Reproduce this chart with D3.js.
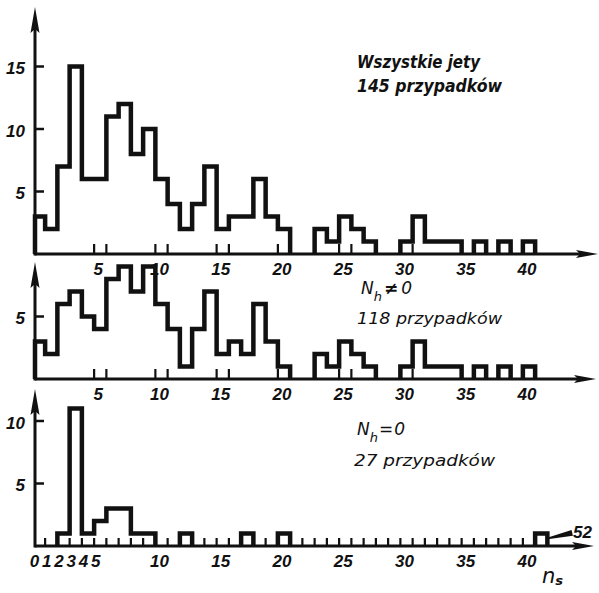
<!DOCTYPE html>
<html>
<head>
<meta charset="utf-8">
<script src="https://cdn.jsdelivr.net/npm/d3@7"></script>
<style>
html, body { margin: 0; padding: 0; background: #fff; }
svg { display: block; }
.num { font-family: "Liberation Sans", Arial, sans-serif; font-weight: bold; font-style: italic; font-size: 17px; fill: #111; }
.note { font-family: "DejaVu Sans", sans-serif; font-style: italic; fill: #111; }
</style>
</head>
<body>
<svg id="chart" width="599" height="593"></svg>
<script>
// n_s bins 0..40
const binsNs = d3.range(0, 41);

// all jets, 145 cases
const allJets = [3,2,7,15,6,6,11,12,8,10,6,4,2,4,7,2,3,3,6,3,2, 0,0,2,1,3,2,1,0,0,1,3,1,1,1,0,1,0,1,0,1];
// N_h != 0, 118 cases
const withHeavy = [3,2,6,7,5,4,8,9,7,9,6,4,1,4,7,2,3,2,6,3,1, 0,0,2,1,3,2,1,0,0,1,3,1,1,1,0,1,0,1,0,1];
// N_h = 0, 27 cases
const noHeavy = [0,0,1,11,1,2,3,3,1,1,0,0,1,0,0,0,0,1,0,0,1, 0,0,0,0,0,0,0,0,0,0,0,0,0,0,0,0,0,0,0,0];
// one event at n_s = 52, drawn in the slot after 40
const overflowNs = 52;
const overflowCount = 1;
const overflowSlot = 41;

const xLabels = [5,10,15,20,25,30,35,40];
const smallLabels = [0,1,2,3,4,5];
const topYTicks = [5,10,15];
const midYTicks = [5];
const botYTicks = [5,10];

const axisX = 35;
const unit = 12.5;
const ink = '#111';

const svg = d3.select('#chart');

const x = d3.scaleLinear().domain([0, 40]).range([39, 529]);
const edge = n => Math.max(axisX, x(n - 0.5));

// tick marks either side of every 5th bin, or on every bin edge
const pairTicks = xLabels.flatMap(v => [v - 0.5, v + 0.5]);
const allTicks = d3.range(0, 41).map(n => n + 0.5);

const panels = [
	{ values: allJets, base: 254, tip: 7, xEnd: 598, yTicks: topYTicks, ticks: pairTicks, tickLen: 10, labelY: 275 },
	{ values: withHeavy, base: 379, tip: 262, xEnd: 596, yTicks: midYTicks, ticks: pairTicks, tickLen: 10, labelY: 400 },
	{ values: noHeavy, base: 546, tip: 389, xEnd: 594, yTicks: botYTicks, ticks: allTicks, tickLen: 8, labelY: 567 }
];

const stepLine = d3.line().curve(d3.curveStepAfter);

// split a histogram into runs of non-empty bins
const runsOf = (vals, y) => {
	let out = [];
	let cur = null;
	vals.forEach((v, n) => {
		if (v > 0) {
			if (!cur) { cur = [[edge(n), y(0)]]; }
			cur.push([edge(n), y(v)]);
		} else if (cur) {
			cur.push([edge(n), y(0)]);
			out.push(cur);
			cur = null;
		}
	});
	if (cur) { cur.push([edge(vals.length), y(0)]); out.push(cur); }
	return out;
};

panels.forEach((p, i) => {
	const y = d3.scaleLinear().domain([0, 1]).range([p.base, p.base - unit]);
	const g = svg.append('g');

	// axes
	g.append('line')
	.attr('x1', axisX).attr('x2', p.xEnd - 14)
	.attr('y1', p.base).attr('y2', p.base)
	.attr('stroke', ink).attr('stroke-width', 3);
	g.append('path')
	.attr('d', `M${p.xEnd},${p.base} L${p.xEnd - 22},${p.base - 4} L${p.xEnd - 18},${p.base} L${p.xEnd - 22},${p.base + 4} Z`)
	.attr('fill', ink);

	g.append('line')
	.attr('x1', axisX).attr('x2', axisX)
	.attr('y1', p.base + 1.5).attr('y2', p.tip + 18)
	.attr('stroke', ink).attr('stroke-width', 3);
	g.append('path')
	.attr('d', `M${axisX},${p.tip} L${axisX - 4.5},${p.tip + 26} L${axisX},${p.tip + 22} L${axisX + 4.5},${p.tip + 26} Z`)
	.attr('fill', ink);

	// histogram
	g.selectAll('path.hist')
	.data(runsOf(p.values, y))
	.enter()
	.append('path')
	.attr('class', 'hist')
	.attr('d', stepLine)
	.attr('fill', 'none')
	.attr('stroke', ink)
	.attr('stroke-width', 4.5)
	.attr('stroke-linejoin', 'miter');

	// x tick marks (pointing up)
	g.selectAll('line.xtick')
	.data(p.ticks)
	.enter()
	.append('line')
	.attr('class', 'xtick')
	.attr('x1', d => x(d)).attr('x2', d => x(d))
	.attr('y1', p.base).attr('y2', p.base - p.tickLen)
	.attr('stroke', ink)
	.attr('stroke-width', 2.2);

	// y tick marks (pointing right)
	g.selectAll('line.ytick')
	.data(p.yTicks)
	.enter()
	.append('line')
	.attr('class', 'ytick')
	.attr('x1', axisX).attr('x2', axisX + 9)
	.attr('y1', d => y(d)).attr('y2', d => y(d))
	.attr('stroke', ink)
	.attr('stroke-width', 2.5);

	// y labels
	g.selectAll('text.ylab')
	.data(p.yTicks)
	.enter()
	.append('text')
	.attr('class', 'num ylab')
	.attr('text-anchor', 'end')
	.attr('x', 25)
	.attr('y', d => y(d) + 7.5)
	.text(d => d);

	// x labels
	const labs = i === 2 ? xLabels.filter(v => v > 5) : xLabels;
	g.selectAll('text.xlab')
	.data(labs)
	.enter()
	.append('text')
	.attr('class', 'num xlab')
	.attr('text-anchor', 'middle')
	.attr('x', d => x(d) - 2)
	.attr('y', p.labelY)
	.text(d => d);

	if (i === 2) {
		g.selectAll('text.small')
		.data(smallLabels)
		.enter()
		.append('text')
		.attr('class', 'num small')
		.attr('text-anchor', 'middle')
		.attr('x', d => x(d) - 4.5)
		.attr('y', p.labelY)
		.text(d => d);

		// the n_s = 52 event
		g.append('path')
		.attr('d', stepLine([[edge(overflowSlot), y(0)], [edge(overflowSlot), y(overflowCount)], [edge(overflowSlot + 1), y(0)]]))
		.attr('fill', 'none')
		.attr('stroke', ink)
		.attr('stroke-width', 4.5);

		g.append('path')
		.attr('d', `M${edge(overflowSlot + 1)},${y(overflowCount) + 5} L571,531 L572,535 Z`)
		.attr('fill', ink)
		.attr('stroke', ink)
		.attr('stroke-width', 1.5);

		g.append('text')
		.attr('class', 'num')
		.attr('font-size', 15)
		.attr('x', 573)
		.attr('y', 538)
		.text(overflowNs);

		const ns = g.append('text').attr('class', 'note').attr('x', 542).attr('y', 583);
		ns.append('tspan').attr('font-size', 21).text('n');
		ns.append('tspan').attr('font-size', 13).attr('font-weight', 'bold').attr('dy', 2).text('s');
	}
});

// panel captions
svg.append('text').attr('class', 'note').attr('font-weight', 'bold').attr('font-size', 17)
.attr('x', 357).attr('y', 68).attr('textLength', 123).attr('lengthAdjust', 'spacingAndGlyphs')
.text('Wszystkie jety');
svg.append('text').attr('class', 'note').attr('font-weight', 'bold').attr('font-size', 17)
.attr('x', 357).attr('y', 92).attr('textLength', 145).attr('lengthAdjust', 'spacingAndGlyphs')
.text('145 przypadków');

const nh1 = svg.append('text').attr('class', 'note').attr('font-size', 17).attr('x', 361).attr('y', 294);
nh1.append('tspan').text('N');
nh1.append('tspan').attr('font-size', 13).attr('dy', 7).text('h');
nh1.append('tspan').attr('dy', -7).attr('dx', 2).attr('font-weight', 'bold').text('\u2260');
nh1.append('tspan').attr('dx', 3).text('0');

svg.append('text').attr('class', 'note').attr('font-size', 16)
.attr('x', 357).attr('y', 324).attr('textLength', 145).attr('lengthAdjust', 'spacingAndGlyphs')
.text('118  przypadków');

const nh2 = svg.append('text').attr('class', 'note').attr('font-size', 17).attr('x', 357).attr('y', 435);
nh2.append('tspan').text('N');
nh2.append('tspan').attr('font-size', 13).attr('dy', 7).text('h');
nh2.append('tspan').attr('dy', -7).attr('dx', 1).text('=');
nh2.append('tspan').attr('dx', 1).text('0');

svg.append('text').attr('class', 'note').attr('font-size', 16)
.attr('x', 354).attr('y', 466).attr('textLength', 141).attr('lengthAdjust', 'spacingAndGlyphs')
.text('27  przypadków');
</script>
</body>
</html>
